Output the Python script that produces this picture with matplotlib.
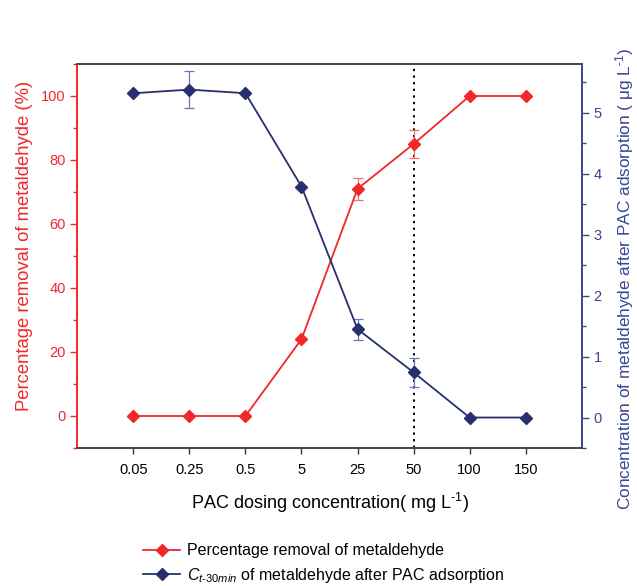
import matplotlib
matplotlib.use("Agg")
import matplotlib.pyplot as plt
from matplotlib.ticker import MultipleLocator
from matplotlib.lines import Line2D
import numpy as np

plt.rcParams['font.family'] = ['Liberation Sans', 'DejaVu Sans']
plt.rcParams['mathtext.fontset'] = 'custom'
plt.rcParams['mathtext.rm'] = 'Liberation Sans'
plt.rcParams['mathtext.it'] = 'Liberation Sans:italic'

doses = ['0.05', '0.25', '0.5', '5', '25', '50', '100', '150']
removal = [0, 0, 0, 24, 71, 85, 100, 100]
removal_err = [0, 0, 0, 0, 3.5, 4.5, 0, 0]
conc = [5.32, 5.38, 5.32, 3.79, 1.45, 0.74, 0, 0]
conc_err = [0, 0.31, 0, 0, 0.17, 0.24, 0, 0]
vline_dose = '50'

RED = '#f0282a'
NAVY = '#27306e'
NAVY_AX = '#3a4690'
NAVY_ERR = '#6a74c0'

fig = plt.figure(figsize=(6.37, 5.86), dpi=100)
ax = fig.add_axes([0.1214, 0.2355, 0.7918, 0.6553])
ax2 = ax.twinx()

x = np.arange(len(doses))
ax.errorbar(x, removal, yerr=removal_err, color=RED, marker='D', ms=6.5,
            lw=1.3, ecolor='#f07070', elinewidth=0.9, capsize=3.5, capthick=0.9, zorder=3)
ax2.errorbar(x, conc, yerr=conc_err, color=NAVY, marker='D', ms=6.5,
             lw=1.3, ecolor=NAVY_ERR, elinewidth=0.9, capsize=3.5, capthick=0.9, zorder=3)
ax.axvline(doses.index(vline_dose), color='black', ls=(0, (1.2, 2.2)), lw=1.4, zorder=2)

ax.set_xlim(-1, 8)
ax.set_ylim(-10, 110)
ax2.set_ylim(-0.5, 5.8)
ax.set_xticks(x)
ax.set_xticklabels(doses, fontsize=10.5)
ax.yaxis.set_major_locator(MultipleLocator(20))
ax.yaxis.set_minor_locator(MultipleLocator(10))
ax2.yaxis.set_major_locator(MultipleLocator(1))
ax2.yaxis.set_minor_locator(MultipleLocator(0.5))

ax.tick_params(axis='y', colors=RED, labelsize=10.5, direction='out', length=5, width=1)
ax.tick_params(axis='y', which='minor', colors=RED, length=3, width=1)
ax2.tick_params(axis='y', colors=NAVY_AX, labelsize=10.5, direction='out', length=5, width=1)
ax2.tick_params(axis='y', which='minor', colors=NAVY_AX, length=3, width=1)
ax.tick_params(axis='x', direction='out', length=4, width=1, colors='#333333',
               labelcolor='black', pad=7)
for a in (ax, ax2):
    a.spines['left'].set_color(RED)
    a.spines['right'].set_color(NAVY_AX)
    a.spines['top'].set_color('#444444')
    a.spines['bottom'].set_color('#444444')
    for s in a.spines.values():
        s.set_linewidth(1.2)

ax.set_xlabel('PAC dosing concentration( mg L$^{\\text{-1}}$)', fontsize=13, labelpad=10)
ax.set_ylabel('Percentage removal of metaldehyde (%)', fontsize=13.3, color=RED)
ax.yaxis.set_label_coords(-0.088, 0.526)
ax2.set_ylabel('Concentration of metaldehyde after PAC adsorption ( μg L$^{\\text{-1}}$)',
               fontsize=12.4, color=NAVY_AX)
ax2.yaxis.set_label_coords(1.063, 0.44)

handles = [Line2D([], [], color=RED, marker='D', ms=6.5, lw=1.3),
           Line2D([], [], color=NAVY, marker='D', ms=6.5, lw=1.3)]
labels = ['Percentage removal of metaldehyde',
          r'$C_{t\text{-}30min}$ of metaldehyde after PAC adsorption']
fig.legend(handles, labels, loc='lower center', bbox_to_anchor=(0.508, -0.022),
           frameon=False, fontsize=11.5, handlelength=2.3, labelspacing=0.45,
           handletextpad=0.4)

fig.savefig('out.png', dpi=100)
